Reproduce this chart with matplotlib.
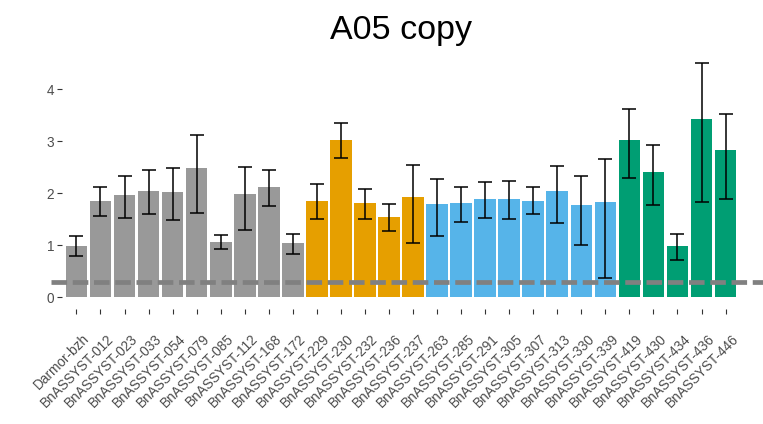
import matplotlib
matplotlib.use("Agg")
import matplotlib.pyplot as plt
import matplotlib.transforms as mtransforms
import numpy as np

plt.rcParams['font.family'] = ['Liberation Sans', 'DejaVu Sans']

# Genotypes, group membership and measured means with confidence bounds
genotypes = ["Darmor-bzh", "BnASSYST-012", "BnASSYST-023", "BnASSYST-033", "BnASSYST-054",
             "BnASSYST-079", "BnASSYST-085", "BnASSYST-112", "BnASSYST-168", "BnASSYST-172",
             "BnASSYST-229", "BnASSYST-230", "BnASSYST-232", "BnASSYST-236", "BnASSYST-237",
             "BnASSYST-263", "BnASSYST-285", "BnASSYST-291", "BnASSYST-305", "BnASSYST-307",
             "BnASSYST-313", "BnASSYST-330", "BnASSYST-339", "BnASSYST-419", "BnASSYST-430",
             "BnASSYST-434", "BnASSYST-436", "BnASSYST-446"]
groups = [0] * 10 + [1] * 5 + [2] * 8 + [3] * 5
means = [0.99, 1.86, 1.97, 2.05, 2.03, 2.48, 1.06, 1.98, 2.13, 1.04,
         1.85, 3.03, 1.81, 1.55, 1.93,
         1.80, 1.82, 1.90, 1.90, 1.86, 2.04, 1.78, 1.84,
         3.03, 2.41, 0.98, 3.43, 2.83]
upper = [1.18, 2.12, 2.33, 2.44, 2.48, 3.12, 1.20, 2.50, 2.45, 1.22,
         2.17, 3.36, 2.08, 1.79, 2.54,
         2.28, 2.13, 2.22, 2.23, 2.12, 2.52, 2.33, 2.66,
         3.63, 2.92, 1.22, 4.51, 3.52]
lower = [0.79, 1.56, 1.53, 1.60, 1.49, 1.63, 0.92, 1.29, 1.76, 0.83,
         1.50, 2.68, 1.50, 1.28, 1.05,
         1.17, 1.45, 1.52, 1.50, 1.60, 1.43, 1.01, 0.38,
         2.29, 1.78, 0.71, 1.84, 1.90]
threshold = 0.3
title = "A05 copy"

palette = ["#999999", "#E69F00", "#56B4E9", "#009E73"]

W, H = 763, 424
fig = plt.figure(figsize=(W / 100, H / 100), dpi=100)
ax_l, ax_r, ax_t, ax_b = 62, 740, 51.1, 309
ax = fig.add_axes([ax_l / W, 1 - ax_b / H, (ax_r - ax_l) / W, (ax_b - ax_t) / H])

x = np.arange(len(genotypes))
m = np.array(means)
colors = [palette[g] for g in groups]
ax.bar(x, m, width=0.9, color=colors, edgecolor='none', zorder=1)
yerr = np.vstack([m - np.array(lower), np.array(upper) - m])
ax.errorbar(x, m, yerr=yerr, fmt='none', ecolor='black', elinewidth=1.1,
            capsize=4.8, capthick=1.1, zorder=3)

# Reference level across the whole plotting width
ax.axhline(threshold, xmin=(50.7 - ax_l) / (ax_r - ax_l), xmax=(770 - ax_l) / (ax_r - ax_l),
           color='#808080', lw=3.4, dashes=(3.3, 1.2), clip_on=False, zorder=2)

ax.set_xlim(-0.6, len(genotypes) - 0.4)
ax.set_ylim(-0.2255, 4.7355)
ax.set_yticks([0, 1, 2, 3, 4])
ax.set_xticks(x)
ax.set_xticklabels(genotypes, rotation=45, ha='right', va='top', rotation_mode='anchor')
ax.tick_params(axis='both', colors='#333333', labelcolor='#4D4D4D', labelsize=9.8,
               length=3.3, width=0.8, pad=2.2)

# Shift the slanted category labels down and to the right of their ticks
shift = mtransforms.ScaledTranslation(6 / 100, -15 / 100, fig.dpi_scale_trans)
for lab in ax.get_xticklabels():
    lab.set_transform(lab.get_transform() + shift)

for s in ax.spines.values():
    s.set_visible(False)

fig.text((ax_l + ax_r) / 2 / W, 1 - 38.5 / H, title, ha='center', va='baseline',
         fontsize=24.5, color='black')

fig.savefig("out.png", dpi=100, facecolor='white')
